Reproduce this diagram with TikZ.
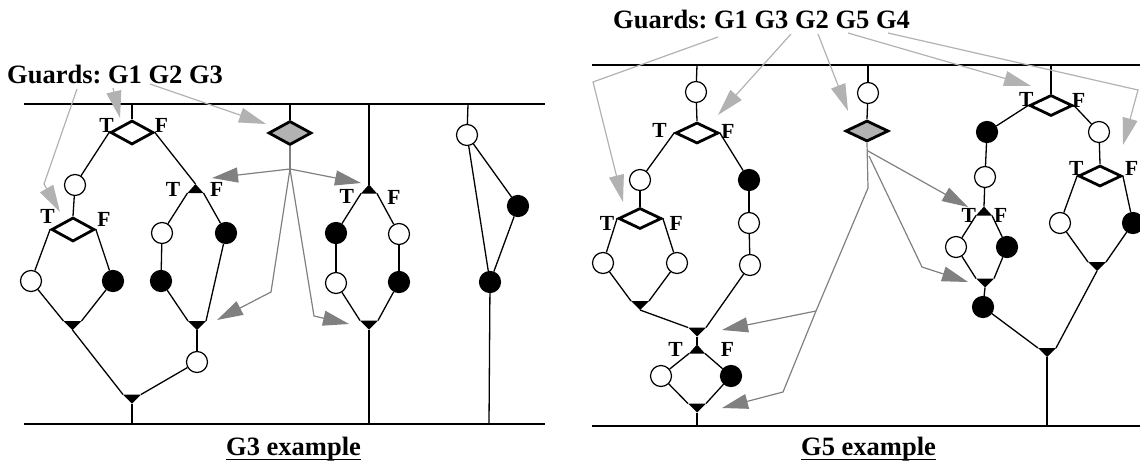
\documentclass[tikz,border=0pt]{standalone}
\usepackage{fontspec}
\setmainfont{Liberation Serif}
\usetikzlibrary{shapes.geometric,arrows.meta}
\frenchspacing
\definecolor{decgray}{gray}{0.70}
\definecolor{guardgray}{gray}{0.70}
\definecolor{flowgray}{gray}{0.50}

\tikzset{
  wire/.style={line width=1.3pt},
  rail/.style={line width=1.5pt},
  opn/.style={circle,draw,line width=1.2pt,fill=white,minimum size=21pt,inner sep=0pt},
  cls/.style={opn,fill=black},
  dec/.style={diamond,draw,line width=2.8pt,fill=white,inner sep=0pt,minimum width=43pt,minimum height=24pt},
  decf/.style={dec,minimum height=21pt},
  gdec/.style={dec,fill=decgray},
  gdecf/.style={decf,fill=decgray},
  tf/.style={font=\fontsize{21.5}{23}\selectfont\bfseries,inner sep=0pt},
  title/.style={font=\fontsize{26.5}{30}\selectfont\bfseries,inner sep=0pt,anchor=base west},
  guard/.style={line width=1.2pt,draw=guardgray,-{Triangle[length=27pt,width=15pt]}},
  flow/.style={line width=1.2pt,draw=flowgray,-{Triangle[length=26pt,width=15pt]}},
  flowline/.style={line width=1.2pt,draw=flowgray},
  mergetri/.pic={
    \fill (-9,-4.5) -- (9,-4.5) -- (0,4.5) -- cycle;
    \coordinate (-l) at (-9,-4.5);
    \coordinate (-r) at (9,-4.5);
    \coordinate (-b) at (0,4.5);
  },
  forktri/.pic={
    \fill (-8,4.5) -- (8,4.5) -- (0,-4.5) -- cycle;
    \coordinate (-l) at (-8,4.5);
    \coordinate (-r) at (8,4.5);
    \coordinate (-t) at (0,-4.5);
  }
}

\begin{document}
\begin{tikzpicture}[x=1pt,y=-1pt]
\useasboundingbox (0,0) rectangle (1140,466);

% ================= G3 example =================
\coordinate (Ltl) at (24,104);  \coordinate (Ltr) at (545,104);
\coordinate (Lbl) at (24,424);  \coordinate (Lbr) at (545,424);
\draw[rail] (Ltl) -- (Ltr);
\draw[rail] (Lbl) -- (Lbr);
\coordinate (L1) at (132,104); \coordinate (L2) at (290,104);
\coordinate (L3) at (369,104); \coordinate (L4) at (468,104);
\coordinate (B1) at (132,424); \coordinate (B2) at (369,424);
\coordinate (B3) at (489,424);

\node[title] (gl) at (7,83) {Guards: G1 G2 G3};

\node[dec] (d1) at (132,132.5) {};
\node[tf] (d1t) at (106.5,125) {T};
\node[tf] (d1f) at (161.5,125) {F};
\node[opn] (c1) at (75,185) {};
\node[dec] (d2) at (73,229.5) {};
\node[tf] (d2t) at (47.5,216.5) {T};
\node[tf] (d2f) at (104,219.5) {F};
\node[opn] (c2) at (31,281) {};
\node[cls] (c3) at (113,281) {};
\pic (m1) at (72.5,325.5) {mergetri};
\pic (f1) at (195.5,188.5) {forktri};
\node[tf] (f1t) at (173,189.3) {T};
\node[tf] (f1f) at (216.7,189.3) {F};
\node[opn] (c4) at (162,233) {};
\node[cls] (c5) at (226,233) {};
\node[cls] (c6) at (161,281) {};
\pic (m2) at (197,325.5) {mergetri};
\node[opn] (c7) at (197,362) {};
\pic (m3) at (132,399) {mergetri};

\node[gdec] (g1) at (290,133) {};

\pic (f2) at (369,189) {forktri};
\node[tf] (f2t) at (346.7,196.3) {T};
\node[tf] (f2f) at (394,197) {F};
\node[cls] (c8) at (336,233) {};
\node[opn] (c9) at (399,234) {};
\node[opn] (c10) at (336,283) {};
\node[cls] (c11) at (399,282) {};
\pic (m4) at (369,325) {mergetri};

\node[opn] (c12) at (467,135) {};
\node[cls] (c13) at (518,206) {};
\node[cls] (c14) at (490,282) {};

\draw[wire] (L1) -- (d1.north);
\draw[wire] (d1.west) -- (c1);
\draw[wire] (c1) -- (d2.north);
\draw[wire] (d2.west) -- (c2);
\draw[wire] (d2.east) -- (c3);
\draw[wire] (c2) -- (m1-l);
\draw[wire] (c3) -- (m1-r);
\draw[wire] (d1.east) -- (f1-t);
\draw[wire] (f1-l) -- (c4);
\draw[wire] (f1-r) -- (c5);
\draw[wire] (c4) -- (c6);
\draw[wire] (c6) -- (m2-l);
\draw[wire] (c5) -- (m2-r);
\draw[wire] (m2-b) -- (c7);
\draw[wire] (m1-b) -- (m3-l);
\draw[wire] (c7) -- (m3-r);
\draw[wire] (m3-b) -- (B1);
\draw[wire] (L2) -- (g1.north);
\draw[wire] (L3) -- (f2-t);
\draw[wire] (f2-l) -- (c8);
\draw[wire] (f2-r) -- (c9);
\draw[wire] (c8) -- (c10);
\draw[wire] (c9) -- (c11);
\draw[wire] (c10) -- (m4-l);
\draw[wire] (c11) -- (m4-r);
\draw[wire] (m4-b) -- (B2);
\draw[wire] (L4) -- (c12);
\draw[wire] (c12) -- (c13);
\draw[wire] (c12) -- (c14);
\draw[wire] (c13) -- (c14);
\draw[wire] (c14) -- (B3);

% flows from the shared guard
\coordinate (h1) at (290,169);
\draw[flowline] (g1.south) -- (h1);
\coordinate (a1) at (212,178);
\coordinate (a2) at (361,183);
\coordinate (k1) at (271,292); \coordinate (a3) at (217,320);
\coordinate (k2) at (314,316); \coordinate (a4) at (349,324);
\draw[flow] (h1) -- (a1);
\draw[flow] (h1) -- (a2);
\draw[flow] (h1) -- (k1) -- (a3);
\draw[flow] (h1) -- (k2) -- (a4);

% guard order
\coordinate (q1) at (113,88);  \coordinate (t1) at (120,118);
\coordinate (q2) at (77,89);   \coordinate (k3) at (44,184); \coordinate (t2) at (60,212);
\coordinate (q3) at (150,84);  \coordinate (t3) at (266,124);
\draw[guard] (q1) -- (t1);
\draw[guard] (q2) -- (k3) -- (t2);
\draw[guard] (q3) -- (t3);

\node[title] (cap1) at (226,455) {G3 example};
\draw[line width=1.4pt] ([yshift=-4.5pt]cap1.base west) -- ([yshift=-4.5pt]cap1.base east);

% ================= G5 example =================
\coordinate (Rtl) at (592,65);  \coordinate (Rtr) at (1140,65);
\coordinate (Rbl) at (592,426); \coordinate (Rbr) at (1140,426);
\draw[rail] (Rtl) -- (Rtr);
\draw[rail] (Rbl) -- (Rbr);
\coordinate (R1) at (697,65); \coordinate (R2) at (868,65); \coordinate (R3) at (1051,65);
\coordinate (BR1) at (697,426); \coordinate (BR2) at (1047,426);

\node[title] (gr) at (613,28) {Guards: G1 G3 G2 G5 G4};

\node[opn] (c15) at (696,92) {};
\node[decf] (d3) at (697,133) {};
\node[tf] (d3t) at (659.5,130.5) {T};
\node[tf] (d3f) at (728,131) {F};
\node[opn] (c16) at (640,180) {};
\node[cls] (c17) at (749,180) {};
\node[decf] (d4) at (640,218.5) {};
\node[tf] (d4t) at (607,223) {T};
\node[tf] (d4f) at (676.3,223.7) {F};
\node[opn] (c18) at (603,263) {};
\node[opn] (c19) at (677,263) {};
\pic (m5) at (640,305.5) {mergetri};
\node[opn] (c20) at (749,223) {};
\node[opn] (c21) at (750,265) {};
\pic (m6) at (697,332) {mergetri};
\pic (f3) at (697,349) {forktri};
\node[tf] (f3t) at (675.5,349.3) {T};
\node[tf] (f3f) at (727.5,349.3) {F};
\node[opn] (c22) at (661,376) {};
\node[cls] (c23) at (731,376) {};
\pic (m7) at (697,408) {mergetri};

\node[opn] (c24) at (868,93) {};
\node[gdecf] (g2) at (867,131) {};

\node[decf] (d5) at (1051,105.5) {};
\node[tf] (d5t) at (1026.3,99.3) {T};
\node[tf] (d5f) at (1078.8,100) {F};
\node[cls] (c25) at (987,132) {};
\node[opn] (c26) at (1099,132) {};
\node[opn] (c27) at (985,177) {};
\pic (f4) at (984,211) {forktri};
\node[tf] (f4t) at (968.8,215.5) {T};
\node[tf] (f4f) at (1000.8,215.5) {F};
\node[opn] (c28) at (956,247) {};
\node[cls] (c29) at (1007,247) {};
\pic (m8) at (985,283) {mergetri};
\node[cls] (c30) at (983,307) {};
\pic (m9) at (1047,352.5) {mergetri};
\node[decf] (d6) at (1100,176) {};
\node[tf] (d6t) at (1076.3,168.3) {T};
\node[tf] (d6f) at (1131.7,168.8) {F};
\node[opn] (c31) at (1060,223) {};
\node[cls] (c32) at (1133,223) {};
\pic (m10) at (1097,266.5) {mergetri};

\draw[wire] (R1) -- (c15);
\draw[wire] (c15) -- (d3.north);
\draw[wire] (d3.west) -- (c16);
\draw[wire] (d3.east) -- (c17);
\draw[wire] (c16) -- (d4.north);
\draw[wire] (d4.west) -- (c18);
\draw[wire] (d4.east) -- (c19);
\draw[wire] (c18) -- (m5-l);
\draw[wire] (c19) -- (m5-r);
\draw[wire] (c17) -- (c20);
\draw[wire] (c20) -- (c21);
\draw[wire] (m5-b) -- (m6-l);
\draw[wire] (c21) -- (m6-r);
\draw[wire] (m6-b) -- (f3-t);
\draw[wire] (f3-l) -- (c22);
\draw[wire] (f3-r) -- (c23);
\draw[wire] (c22) -- (m7-l);
\draw[wire] (c23) -- (m7-r);
\draw[wire] (m7-b) -- (BR1);
\draw[wire] (R2) -- (c24);
\draw[wire] (c24) -- (g2.north);
\draw[wire] (R3) -- (d5.north);
\draw[wire] (d5.west) -- (c25);
\draw[wire] (d5.east) -- (c26);
\draw[wire] (c25) -- (c27);
\draw[wire] (c27) -- (f4-t);
\draw[wire] (f4-l) -- (c28);
\draw[wire] (f4-r) -- (c29);
\draw[wire] (c28) -- (m8-l);
\draw[wire] (c29) -- (m8-r);
\draw[wire] (m8-b) -- (c30);
\draw[wire] (c30) -- (m9-l);
\draw[wire] (c26) -- (d6.north);
\draw[wire] (d6.west) -- (c31);
\draw[wire] (d6.east) -- (c32);
\draw[wire] (c31) -- (m10-l);
\draw[wire] (c32) -- (m10-r);
\draw[wire] (m10-b) -- (m9-r);
\draw[wire] (m9-b) -- (BR2);

% flows from the shared guard
\coordinate (h2) at (868,188);
\draw[flowline] (g2.south) -- (h2);
\coordinate (s1) at (868,151); \coordinate (a5) at (968,207);
\coordinate (s2) at (869,156); \coordinate (k4) at (922,267); \coordinate (a6) at (968,282);
\coordinate (k5) at (816,311); \coordinate (k6) at (783,392); \coordinate (a7) at (722,408);
\coordinate (a8) at (722,330);
\draw[flow] (s1) -- (a5);
\draw[flow] (s2) -- (k4) -- (a6);
\draw[flow] (h2) -- (k5) -- (k6) -- (a7);
\draw[flow] (k5) -- (a8);

% guard order
\coordinate (q4) at (718,37); \coordinate (k7) at (593,82); \coordinate (t4) at (623,202);
\coordinate (q5) at (791,34); \coordinate (t5) at (718,115);
\coordinate (q6) at (818,34); \coordinate (t6) at (848,111);
\coordinate (q7) at (848,33); \coordinate (t7) at (1031,86);
\coordinate (q8) at (888,33); \coordinate (k8) at (1138,90); \coordinate (t8) at (1123,145);
\draw[guard] (q4) -- (k7) -- (t4);
\draw[guard] (q5) -- (t5);
\draw[guard] (q6) -- (t6);
\draw[guard] (q7) -- (t7);
\draw[guard] (q8) -- (k8) -- (t8);

\node[title] (cap2) at (801,455) {G5 example};
\draw[line width=1.4pt] ([yshift=-4.5pt]cap2.base west) -- ([yshift=-4.5pt]cap2.base east);
\end{tikzpicture}
\end{document}
